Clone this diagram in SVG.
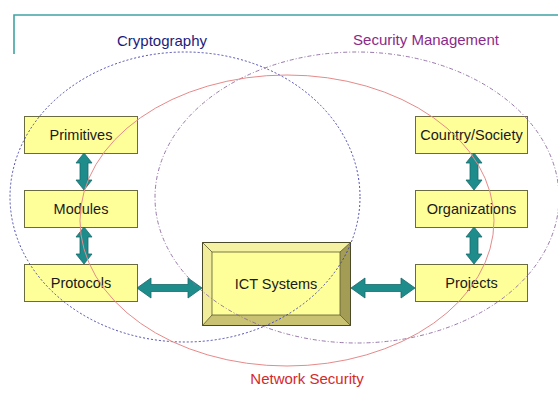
<svg xmlns="http://www.w3.org/2000/svg" width="558" height="394" viewBox="0 0 558 394">
<style>
.box{fill:#ffff99;stroke:#6b6b40;stroke-width:1}
.lbl{font-family:"Liberation Sans",Arial,sans-serif;font-size:14.5px;fill:#1a1a1a;text-anchor:middle}
.ttl{font-family:"Liberation Sans",Arial,sans-serif;font-size:15px;text-anchor:middle}
.arr{fill:#1f8c8c;stroke:#176b6b;stroke-width:0.8}
.ell{fill:none}
</style>
<rect width="558" height="394" fill="#ffffff"/>
<g id="header">
<path d="M14,54 V15 H558" fill="none" stroke="#3fa3a3" stroke-width="1.6"/>
</g>
<g id="titles">
<text class="ttl" x="162" y="46" fill="#1c1c7c">Cryptography</text>
<text class="ttl" x="426" y="45" fill="#8a2a8a">Security Management</text>
<text class="ttl" x="307" y="384" fill="#d42a2a">Network Security</text>
</g>
<g id="primitives"><rect class="box" x="24.5" y="116.5" width="113" height="37"/><text class="lbl" x="81" y="140">Primitives</text></g>
<g id="modules"><rect class="box" x="24.5" y="190.5" width="113" height="37"/><text class="lbl" x="81" y="214">Modules</text></g>
<g id="protocols"><rect class="box" x="24.5" y="264.5" width="113" height="37"/><text class="lbl" x="81" y="288">Protocols</text></g>
<g id="country"><rect class="box" x="415.5" y="116.5" width="112" height="37"/><text class="lbl" x="471.5" y="140">Country/Society</text></g>
<g id="organizations"><rect class="box" x="415.5" y="190.5" width="112" height="37"/><text class="lbl" x="471.5" y="214">Organizations</text></g>
<g id="projects"><rect class="box" x="415.5" y="264.5" width="112" height="37"/><text class="lbl" x="471.5" y="288">Projects</text></g>
<g id="ict">
<rect x="202" y="242" width="149" height="84" fill="#ffff99"/>
<polygon points="202,242 351,242 340,252 212,252" fill="#f6f2a4"/>
<polygon points="202,242 212,252 212,315 202,326" fill="#f1ed9a"/>
<polygon points="351,242 351,326 340,315 340,252" fill="#a39c55"/>
<polygon points="202,326 351,326 340,315 212,315" fill="#c9c272"/>
<rect x="212" y="252" width="128" height="63" fill="#ffff99" stroke="#5a5a30" stroke-width="0.8"/>
<rect x="202.5" y="242.5" width="148" height="83" fill="none" stroke="#4a4a28" stroke-width="1"/>
<line x1="202" y1="242" x2="212" y2="252" stroke="#5a5a30" stroke-width="0.8"/>
<line x1="351" y1="242" x2="340" y2="252" stroke="#5a5a30" stroke-width="0.8"/>
<line x1="202" y1="326" x2="212" y2="315" stroke="#5a5a30" stroke-width="0.8"/>
<line x1="351" y1="326" x2="340" y2="315" stroke="#5a5a30" stroke-width="0.8"/>
<text class="lbl" x="276" y="289">ICT Systems</text>
</g>
<g id="connectors">
<polygon class="arr" points="84,153 92,163 88,163 88,180 92,180 84,190 76,180 80,180 80,163 76,163"/>
<polygon class="arr" points="84,227 92,237 88,237 88,254 92,254 84,264 76,254 80,254 80,237 76,237"/>
<polygon class="arr" points="474,153 482,163 478,163 478,180 482,180 474,190 466,180 470,180 470,163 466,163"/>
<polygon class="arr" points="474,227 482,237 478,237 478,254 482,254 474,264 466,254 470,254 470,237 466,237"/>
<polygon class="arr" points="137,288 151,278 151,284.5 188,284.5 188,278 202,288 188,298 188,291.5 151,291.5 151,298"/>
<polygon class="arr" points="351,288 365,278 365,284.5 401,284.5 401,278 415,288 401,298 401,291.5 365,291.5 365,298"/>
</g>
<g id="regions">
<ellipse class="ell" cx="185" cy="197" rx="175" ry="145" stroke="#3a3aa8" stroke-width="0.9" stroke-dasharray="2,2"/>
<ellipse class="ell" cx="357" cy="197.5" rx="202" ry="145.5" stroke="#8d6aa0" stroke-width="0.9" stroke-dasharray="4,2,1,2"/>
<ellipse class="ell" cx="287" cy="220.5" rx="207" ry="145.5" stroke="#e68a8a" stroke-width="1"/>
</g>
</svg>
